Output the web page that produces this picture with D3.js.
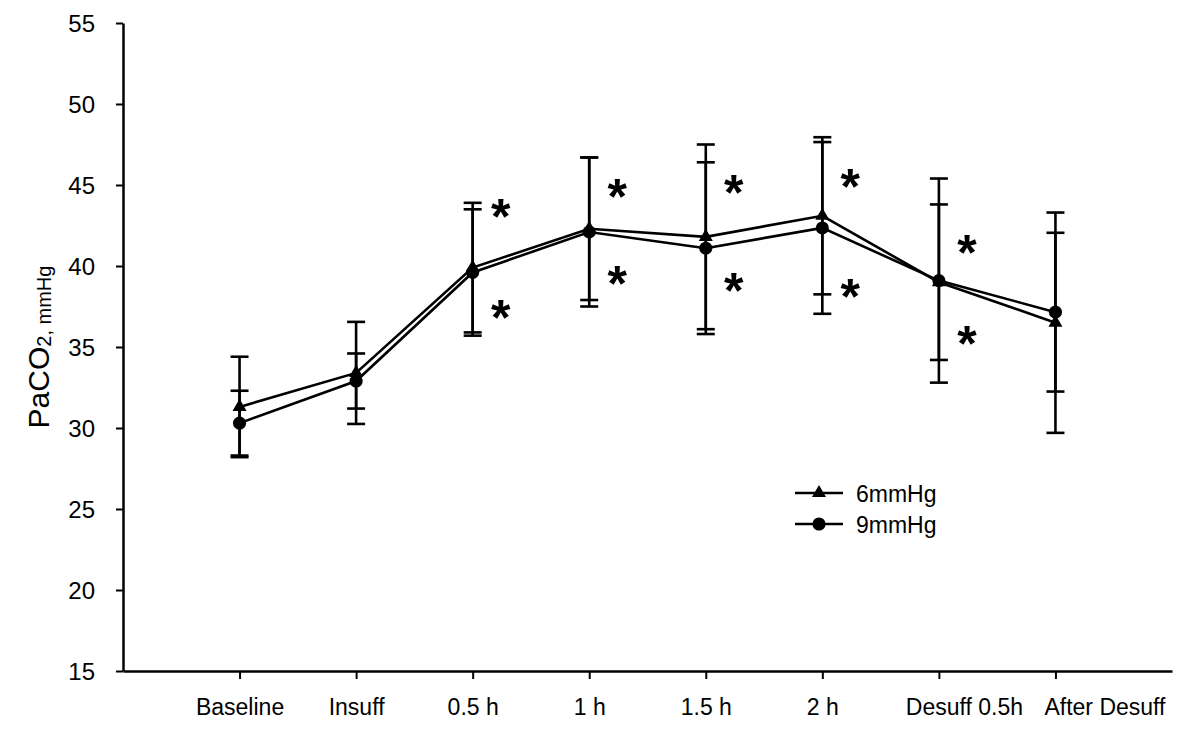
<!DOCTYPE html>
<html><head><meta charset="utf-8">
<script src="https://cdn.jsdelivr.net/npm/d3@7"></script>
<style>body{margin:0;background:#fff} text{font-family:"Liberation Sans",Arial,sans-serif;fill:#000}</style>
</head><body>
<svg id="c" width="1200" height="738"></svg>
<script>
const categories = ["Baseline","Insuff","0.5 h","1 h","1.5 h","2 h","Desuff 0.5h","After Desuff"];
const mean6 = [31.3, 33.4, 39.9, 42.3, 41.8, 43.1, 39.0, 36.5];
const sd6   = [3.1, 3.15, 4.0, 4.4, 5.7, 4.85, 4.8, 6.8];
const mean9 = [30.3, 32.9, 39.6, 42.1, 41.1, 42.35, 39.1, 37.15];
const sd9   = [2.0, 1.7, 3.9, 4.6, 5.3, 5.3, 6.3, 4.9];
const sigUpper = [null, null, 43.45, 44.7, 44.9, 45.3, 41.2, null];
const sigLower = [null, null, 37.2, 39.3, 38.9, 38.5, 35.6, null];
const yTicks = [15, 20, 25, 30, 35, 40, 45, 50, 55];
const seriesNames = ["6mmHg", "9mmHg"];

const svg = d3.select("#c");
const x = d3.scaleLinear().domain([-1, 8]).range([123, 1172]);
const y = d3.scaleLinear().domain([15, 55]).range([671, 23]);

// axes
const gy = svg.append("g").attr("transform", "translate(123,0)")
  .call(d3.axisLeft(y).tickValues(yTicks).tickSize(7).tickSizeOuter(0).tickPadding(21));
const gx = svg.append("g").attr("transform", "translate(0,671)")
  .call(d3.axisBottom(x).tickValues(d3.range(categories.length)).tickFormat(i => categories[i])
    .tickSize(8).tickSizeOuter(0).tickPadding(0));
[gy, gx].forEach(g => {
  g.select(".domain").attr("stroke", "#000").attr("stroke-width", 2.5);
  g.selectAll(".tick line").attr("stroke", "#000").attr("stroke-width", 2);
});
gy.selectAll(".tick text").attr("font-size", 24).attr("font-family", null).attr("dy", "0.36em");
// the last two labels sit to the right of their ticks in the original to avoid overlap
const labelShift = i => (i === 6 ? 25 : i === 7 ? 49 : 0);
gx.selectAll(".tick text").attr("font-size", 23).attr("font-family", null)
  .attr("y", 44).attr("dy", 0).attr("x", d => labelShift(d));

// y label
const yl = svg.append("text").attr("transform", "translate(49,347) rotate(-90)")
  .attr("text-anchor", "middle");
yl.append("tspan").attr("font-size", 30).text("PaCO");
yl.append("tspan").attr("font-size", 20).attr("dy", 2).text("2, mmHg");

const series = [
  {name: seriesNames[0], mean: mean6, sd: sd6, sym: d3.symbolTriangle, size: 85},
  {name: seriesNames[1], mean: mean9, sd: sd9, sym: d3.symbolCircle, size: 135}
];

const cap = 9;
series.forEach(s => {
  const g = svg.append("g").attr("stroke", "#000").attr("stroke-width", 2.6);
  s.mean.forEach((m, i) => {
    const lo = m - s.sd[i], hi = m + s.sd[i], cx = x(i);
    g.append("line").attr("x1", cx).attr("x2", cx).attr("y1", y(lo)).attr("y2", y(hi));
    g.append("line").attr("x1", cx - cap).attr("x2", cx + cap).attr("y1", y(lo)).attr("y2", y(lo));
    g.append("line").attr("x1", cx - cap).attr("x2", cx + cap).attr("y1", y(hi)).attr("y2", y(hi));
  });
});

const line = d3.line().x((d, i) => x(i)).y(d => y(d));
series.forEach(s => {
  svg.append("path").datum(s.mean).attr("d", line).attr("fill", "none")
    .attr("stroke", "#000").attr("stroke-width", 2.6);
});
series.forEach(s => {
  svg.append("g").selectAll("path").data(s.mean).join("path")
    .attr("d", d3.symbol(s.sym, s.size))
    .attr("transform", (d, i) => `translate(${x(i)},${y(d)})`)
    .attr("fill", "#000");
});

// significance asterisks
const astFs = 50;
function drawAst(arr, dx) {
  svg.append("g").selectAll("text").data(arr.map((v, i) => ({v, i})).filter(d => d.v != null))
    .join("text")
    .attr("transform", d => `translate(${x(d.i) + dx},${y(d.v) + astFs * 0.475})`)
    .attr("text-anchor", "middle").attr("font-weight", "bold").attr("font-size", astFs)
    .text("*");
}
drawAst(sigUpper, 28);
drawAst(sigLower, 28);

// legend
const lg = svg.append("g");
series.forEach((s, k) => {
  const ly = 493 + k * 31;
  lg.append("line").attr("x1", 795).attr("x2", 843).attr("y1", ly).attr("y2", ly)
    .attr("stroke", "#000").attr("stroke-width", 2.6);
  lg.append("path").attr("d", d3.symbol(s.sym, s.size)).attr("transform", `translate(819,${ly})`)
    .attr("fill", "#000");
  lg.append("text").attr("transform", `translate(856,${ly + 9})`)
    .attr("font-size", 23).text(s.name);
});
</script>
</body></html>
